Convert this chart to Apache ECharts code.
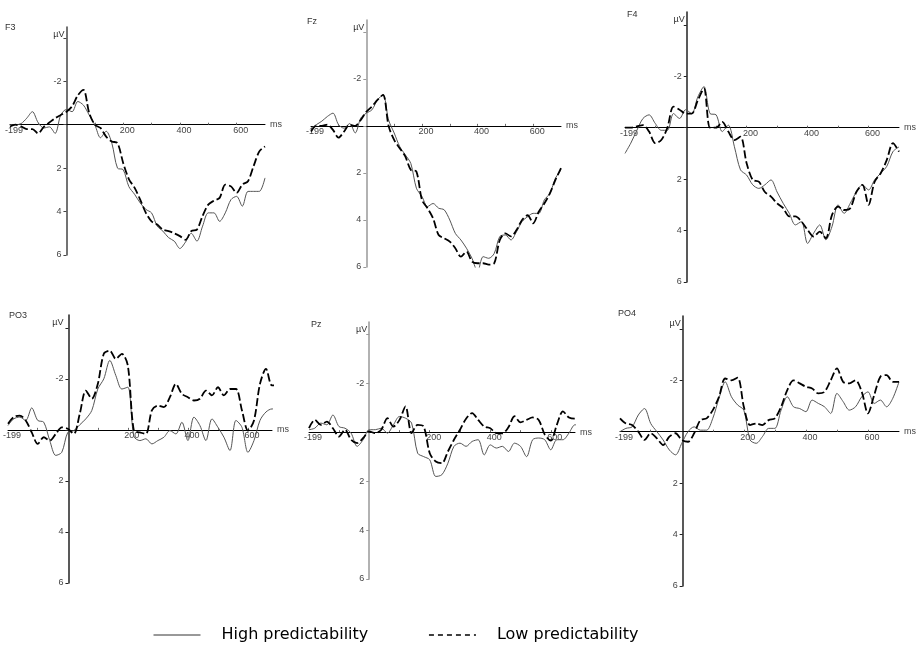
<!DOCTYPE html>
<html>
<head>
<meta charset="utf-8">
<script src="https://cdn.jsdelivr.net/npm/echarts@6/dist/echarts.min.js"></script>
<style>
  html, body { margin: 0; padding: 0; background: #fff; }
  #chart { width: 917px; height: 648px; }
</style>
</head>
<body>
<div id="chart"></div>
<script>
// sample times in ms
const times = [-199, -180, -160, -140, -120, -100, -80, -60, -40, -20,
  0, 20, 40, 60, 80, 100, 120, 140, 160, 180, 200, 220, 240, 260, 280, 300,
  320, 340, 360, 380, 400, 420, 440, 460, 480, 500, 520, 540, 560, 580, 600,
  620, 640, 660, 680, 700];

// amplitudes in µV (negative plotted upward)
const f3High = [0, 0, -0.05, -0.3, -0.6, -0.1, 0.15, 0.1, 0.4, -0.45,
  -0.7, -0.6, -1.07, -0.9, -0.45, 0, 0.6, 0.3, 0.85, 2.0, 2.07, 2.85, 3.2, 3.6, 3.9, 4.06,
  4.67, 4.9, 5.2, 5.36, 5.7, 5.4, 5.0, 5.36, 4.67, 4.06, 4.06, 4.45, 4.06, 3.45, 3.3,
  3.75, 3.07, 3.07, 3.07, 2.45];
const f3Low = [0.08, 0, 0.08, 0.2, 0.2, 0.4, 0.1, -0.1, -0.3, -0.45,
  -0.6, -0.85, -1.35, -1.6, -0.55, 0, 0.15, 0.55, 0.77, 0.85, 1.76, 2.5, 2.9, 3.45, 4.06, 4.45,
  4.6, 4.83, 4.9, 5.0, 5.13, 5.3, 4.9, 4.83, 4.2, 3.68, 3.5, 3.37, 2.76, 2.84, 3.14,
  2.76, 2.6, 1.9, 1.23, 1.0];

const fzHigh = [0.1, -0.05, -0.2, -0.4, -0.54, -0.05, 0.1, -0.1, 0.3, -0.33,
  -0.54, -0.68, -1.1, -1.32, -0.25, 0.3, 0.88, 1.23, 1.6, 2.65, 3.0, 3.43, 3.3, 3.5, 3.57, 4.0,
  4.57, 4.85, 5.2, 5.63, 6.2, 5.56, 5.63, 5.42, 4.7, 4.64, 4.85, 4.5, 4.07, 3.86, 3.72,
  3.72, 3.15, 2.87, 2.23, 1.87];
const fzLow = [0.24, 0, 0, -0.05, 0.17, 0.5, 0.24, -0.05, 0, -0.25,
  -0.6, -0.82, -1.1, -1.32, 0, 0.6, 0.95, 1.3, 1.87, 1.94, 3.15, 3.5, 3.93, 4.64, 4.78, 4.92,
  5.2, 5.56, 5.35, 5.77, 5.84, 5.84, 5.9, 5.84, 4.85, 4.57, 4.7, 4.43, 4.0, 3.8, 4.14,
  3.65, 3.3, 2.87, 2.3, 1.8];

const f4High = [1.0, 0.6, 0.1, -0.36, -0.5, -0.17, 0.1, 0.1, -0.55, -0.36,
  -0.7, -0.55, -1.2, -1.6, -0.55, -0.5, 0.15, -0.1, 0.74, 1.64, 1.84, 2.22, 2.36, 2.22, 2.03, 2.5,
  2.94, 3.33, 3.78, 3.65, 4.5, 4.1, 3.78, 4.36, 3.85, 3.0, 3.33, 2.94, 2.5, 2.22, 2.42,
  2.03, 1.77, 1.5, 0.93, 0.75];
const f4Low = [0, 0, -0.05, -0.1, 0.15, 0.6, 0.48, 0, -0.82, -0.7,
  -0.55, -0.55, -1.07, -1.53, 0, 0, -0.23, 0.15, 0.48, 0.35, 1.38, 2.03, 2.1, 2.5, 2.68, 2.94,
  3.13, 3.45, 3.45, 3.65, 3.97, 4.23, 4.04, 4.3, 3.4, 3.07, 3.2, 3.13, 2.5, 2.22, 3.0,
  2.1, 1.77, 1.25, 0.6, 0.93];

const po3High = [-0.17, -0.43, -0.5, -0.37, -0.86, -0.37, -0.3, 0.42, 1.0, 0.88,
  0.1, 0.03, -0.2, -0.43, -0.76, -1.6, -2.0, -2.72, -2.13, -1.6, -1.67, 0.25, 0.42, 0.35, 0.55, 0.42,
  0.29, 0.03, 0.16, -0.3, 0.42, -0.5, -0.17, 0.42, -0.43, -0.1, 0.29, 0.81, -0.37, -0.1, 0.88,
  0.42, -0.37, -0.7, -0.82, -0.82];
const po3Low = [-0.24, -0.5, -0.56, -0.37, 0.1, 0.55, 0.29, 0.42, 0.16, -0.1,
  -0.04, 0.16, -0.63, -1.54, -1.22, -1.8, -2.98, -3.1, -2.78, -2.98, -2.52, 0.03, 0.1, 0.16, -0.76, -0.95,
  -0.89, -1.28, -1.8, -1.41, -1.28, -1.15, -1.22, -1.54, -1.35, -1.67, -1.35, -1.6, -1.6, -0.76, 0.03,
  -0.37, -1.8, -2.39, -1.74, -1.74];

const pzHigh = [-0.1, -0.16, -0.37, -0.3, -0.7, -0.23, -0.16, 0.04, 0.58, 0.31,
  -0.1, -0.1, -0.16, 0.04, -0.3, -0.64, -0.57, -0.37, 0.86, 1.0, 1.13, 1.81, 1.74, 1.27, 0.58, 0.45,
  0.58, 0.38, 0.31, 0.93, 0.52, 0.65, 0.58, 0.79, 0.45, 0.58, 1.0, 0.31, 0.24, 0.31, 0.72,
  0.31, 0.31, 0.04, -0.3, -0.3];
const pzLow = [-0.16, -0.5, -0.3, -0.43, -0.16, 0.18, -0.1, 0.31, 0.45, 0.24,
  -0.03, 0.04, -0.1, -0.57, -0.23, -0.5, -1.05, 0.04, -0.3, -0.23, 0.86, 1.2, 1.27, 0.79, 0.31, -0.1,
  -0.55, -0.78, -0.5, -0.23, -0.16, 0.04, 0.05, -0.2, -0.65, -0.4, -0.5, -0.6, -0.5, 0.1, 0.35,
  -0.3, -0.85, -0.6, -0.55, -0.55];

const po4High = [0, -0.13, -0.19, -0.65, -0.9, -0.32, 0, 0.32, 0.71, 0.9,
  0.45, 0, -0.19, -0.06, -0.06, -0.52, -1.3, -1.94, -1.36, -1.04, -0.84, 0.32, 0.45, 0.19, -0.13, -0.13,
  -0.84, -1.36, -0.97, -0.9, -0.78, -1.23, -1.1, -0.97, -0.71, -1.49, -1.17, -0.84, -0.97, -1.36, -1.55,
  -1.1, -1.23, -0.97, -1.3, -1.94];
const po4Low = [-0.52, -0.32, -0.26, 0, 0.32, 0.06, 0.26, 0.52, 0.19, 0.06,
  0.32, 0.39, 0.06, -0.45, -0.52, -0.84, -1.36, -2.07, -2.0, -2.1, -0.97, -0.26, -0.32, -0.26, -0.45, -0.52,
  -0.97, -1.62, -2.0, -1.88, -1.75, -1.68, -1.49, -1.55, -2.0, -2.46, -1.94, -1.88, -2.0, -1.55, -0.71,
  -1.42, -2.14, -2.2, -1.94, -1.94];

const xLabels = [-199, 200, 400, 600];
const xTicks = [-100, 100, 200, 300, 400, 500, 600];
const yLabels = [-2, 2, 4, 6];
const yTicks = [-4, -2, 0, 2, 4, 6];
const yMin = -4.5, yMax = 6, xMin = -199;
const highName = 'High predictability';
const lowName = 'Low predictability';

// panel layout (pixels)
const panels = [
  { label: 'F3',  high: f3High,  low: f3Low,  left: 10,  top: 27,  width: 255, height: 228, xMax: 700, axisColor: '#444', lx: 5,   ly: 23 },
  { label: 'Fz',  high: fzHigh,  low: fzLow,  left: 311, top: 20,  width: 250, height: 247, xMax: 700, axisColor: '#999', lx: 307, ly: 17 },
  { label: 'F4',  high: f4High,  low: f4Low,  left: 625, top: 12,  width: 279, height: 270, xMax: 700, axisColor: '#222', lx: 627, ly: 10 },
  { label: 'PO3', high: po3High, low: po3Low, left: 5,   top: 315, width: 267, height: 268, xMax: 680, axisColor: '#222', lx: 9,   ly: 311 },
  { label: 'Pz',  high: pzHigh,  low: pzLow,  left: 309, top: 322, width: 266, height: 257, xMax: 680, axisColor: '#999', lx: 311, ly: 320 },
  { label: 'PO4', high: po4High, low: po4Low, left: 620, top: 316, width: 283, height: 270, xMax: 700, axisColor: '#222', lx: 618, ly: 309 }
];

const chart = echarts.init(document.getElementById('chart'));

const grid = [], xAxis = [], yAxis = [], series = [], graphic = [];
const font = 'Liberation Sans, Arial, sans-serif';

panels.forEach(function (p, i) {
  // distance from grid edges to the zero lines, so the axes cross at the origin
  const zeroX = (0 - xMin) / (p.xMax - xMin) * p.width;
  const zeroFromBottom = (yMax - 0) / (yMax - yMin) * p.height;

  grid.push({ left: p.left, top: p.top, width: p.width, height: p.height });
  xAxis.push({
    type: 'value', gridIndex: i, min: xMin, max: p.xMax,
    position: 'bottom', offset: -zeroFromBottom,
    name: 'ms', nameLocation: 'end', nameGap: 5,
    nameTextStyle: { fontSize: 9, color: '#444', fontFamily: font, padding: [5, 0, 0, 0] },
    axisLine: { onZero: false, lineStyle: { color: '#000', width: 1 } },
    axisTick: { show: true, inside: true, length: 2, customValues: xTicks, lineStyle: { color: '#666' } },
    axisLabel: { customValues: xLabels, fontSize: 9, color: '#444', fontFamily: font, margin: 1, padding: [0, 0, 0, 8] },
    splitLine: { show: false }
  });
  yAxis.push({
    type: 'value', gridIndex: i, min: yMin, max: yMax, inverse: true,
    position: 'left', offset: -zeroX,
    axisLine: { onZero: false, lineStyle: { color: p.axisColor, width: 1.5 } },
    axisTick: { show: true, length: 3, customValues: yTicks, lineStyle: { color: p.axisColor } },
    axisLabel: { customValues: yLabels, fontSize: 9, color: '#444', fontFamily: font, margin: 5 },
    splitLine: { show: false }
  });
  series.push({
    name: highName, type: 'line', xAxisIndex: i, yAxisIndex: i,
    data: times.map(function (t, k) { return [t, p.high[k]]; }),
    symbol: 'none', smooth: 0.3,
    itemStyle: { color: '#555' },
    lineStyle: { color: '#555', width: 1 }
  });
  series.push({
    name: lowName, type: 'line', xAxisIndex: i, yAxisIndex: i,
    data: times.map(function (t, k) { return [t, p.low[k]]; }),
    symbol: 'none', smooth: 0.3,
    itemStyle: { color: '#000' },
    lineStyle: { color: '#000', width: 1.8, type: [8, 3] }
  });
  // panel label and unit
  graphic.push({
    type: 'text', x: p.lx, y: p.ly,
    style: { text: p.label, fontSize: 9, fill: '#333', fontFamily: font }
  });
  graphic.push({
    type: 'text', x: p.left + zeroX - 2, y: p.top + 3,
    style: { text: 'µV', fontSize: 9, fill: '#333', fontFamily: font, align: 'right' }
  });
});

chart.setOption({
  backgroundColor: '#fff',
  animation: false,
  grid: grid,
  xAxis: xAxis,
  yAxis: yAxis,
  series: series,
  graphic: graphic,
  legend: {
    left: 153, top: 627, padding: 0,
    itemWidth: 47, itemHeight: 14, itemGap: 60,
    textStyle: { fontSize: 16, color: '#000', fontFamily: 'DejaVu Sans, sans-serif', padding: [0, 0, 0, 16] },
    data: [
      { name: highName, itemStyle: { opacity: 0 }, lineStyle: { width: 1, color: '#333' } },
      { name: lowName, itemStyle: { opacity: 0 }, lineStyle: { width: 1.3, type: [5, 4], color: '#000' } }
    ]
  }
});

window.addEventListener('resize', function () {
  chart.resize();
});
</script>
</body>
</html>
